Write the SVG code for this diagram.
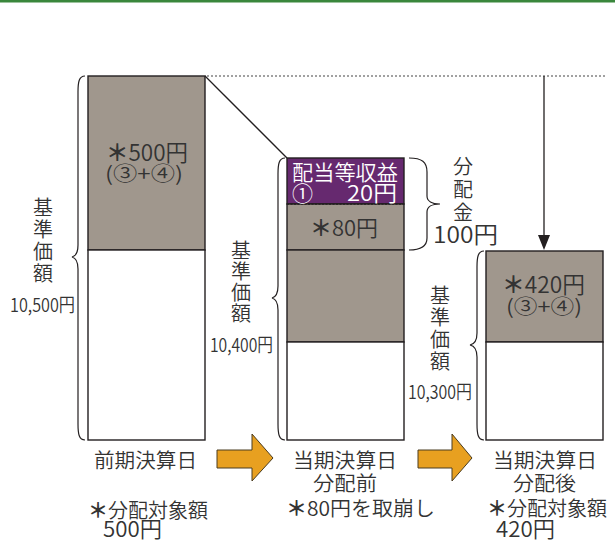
<svg xmlns="http://www.w3.org/2000/svg" width="615" height="542" viewBox="0 0 615 542">
<style>
text{font-family:"Noto Sans CJK JP","Noto Sans",sans-serif;fill:#333;font-weight:350}
.box{stroke:#231f20;stroke-width:1.4}
.g{fill:#a0978d}
.w{fill:#fff}
.p{fill:#66296f}
.ln{stroke:#231f20;stroke-width:1.3;fill:none}
.br{stroke:#231f20;stroke-width:1.2;fill:none}
.v{font-size:20px;text-anchor:middle}
.s{font-size:19px}
.ast{font-weight:700}
.arr{fill:#e8a020;stroke:#4a3c20;stroke-width:1}
</style>
<rect x="0" y="0" width="615" height="2.5" fill="#3a873c"/>

<g id="connectors">
<line class="ln" x1="205" y1="76" x2="287" y2="158"/>
<line x1="207" y1="76" x2="606" y2="76" stroke="#444" stroke-width="1.2" stroke-dasharray="2,2"/>
<line class="ln" x1="544" y1="76" x2="544" y2="238"/>
<polygon points="538,235 550,235 544,250" fill="#231f20"/>
<polygon class="arr" points="217,450 252,450 252,434 273,458 252,481 252,468 217,468"/>
<polygon class="arr" points="418,450 452,450 452,434 472,458 452,481 452,468 418,468"/>
</g>

<g id="box1">
<rect class="box g" x="88" y="76" width="117" height="174"/>
<rect class="box w" x="88" y="250" width="117" height="190"/>
<text x="106" y="161" font-size="23" textLength="82" lengthAdjust="spacingAndGlyphs"><tspan class="ast">＊</tspan>500円</text>
<text x="105" y="181" font-size="20" textLength="78" lengthAdjust="spacingAndGlyphs">(③+④)</text>
<path class="br" d="M85,76 C79,76 78,82 78,92 L78,245 C78,252 76,256 72,257 C76,258 78,262 78,269 L78,424 C78,434 79,440 85,440"/>
<text class="v"><tspan x="43" y="215">基</tspan><tspan x="43" y="237">準</tspan><tspan x="43" y="259">価</tspan><tspan x="43" y="281">額</tspan></text>
<text class="s" x="10" y="312" textLength="65" lengthAdjust="spacingAndGlyphs">10,500円</text>
<text x="94" y="468" font-size="20.5" textLength="103" lengthAdjust="spacingAndGlyphs">前期決算日</text>
<text x="88" y="518" font-size="20.5" textLength="120" lengthAdjust="spacingAndGlyphs"><tspan class="ast">＊</tspan>分配対象額</text>
<text x="103" y="537" font-size="22" textLength="59" lengthAdjust="spacingAndGlyphs">500円</text>
</g>

<g id="box2">
<rect class="box p" x="287" y="158" width="117" height="46"/>
<rect class="box g" x="287" y="204" width="117" height="46"/>
<rect class="box g" x="287" y="250" width="117" height="92"/>
<rect class="box w" x="287" y="342" width="117" height="98"/>
<line x1="287" y1="204" x2="404" y2="204" stroke="#231f20" stroke-width="1.4" stroke-dasharray="2,1.5"/>
<text x="292" y="180" font-size="21" style="fill:#fff" textLength="106" lengthAdjust="spacingAndGlyphs">配当等収益</text>
<text x="292" y="201" font-size="21" style="fill:#fff">①</text>
<text x="347" y="201" font-size="22" style="fill:#fff" textLength="50" lengthAdjust="spacingAndGlyphs">20円</text>
<text x="310" y="236" font-size="22" textLength="68" lengthAdjust="spacingAndGlyphs"><tspan class="ast">＊</tspan>80円</text>
<path class="br" d="M285,158 C279,158 278,164 278,174 L278,286 C278,293 276,297 272,298 C276,299 278,303 278,310 L278,424 C278,434 279,440 285,440"/>
<text class="v"><tspan x="241" y="258">基</tspan><tspan x="241" y="279">準</tspan><tspan x="241" y="300">価</tspan><tspan x="241" y="321">額</tspan></text>
<text class="s" x="210" y="352" textLength="63" lengthAdjust="spacingAndGlyphs">10,400円</text>
<text x="293" y="468" font-size="20.5" textLength="104" lengthAdjust="spacingAndGlyphs">当期決算日</text>
<text x="313" y="491" font-size="20.5" textLength="64" lengthAdjust="spacingAndGlyphs">分配前</text>
<text x="286" y="516" font-size="20.5" textLength="149" lengthAdjust="spacingAndGlyphs"><tspan class="ast">＊</tspan>80円を取崩し</text>
</g>

<g id="dist">
<path class="br" d="M409,158 C422,158 427,162 427,172 L427,196 C427,201 432,204 440,204 C432,204 427,207 427,212 L427,238 C427,246 422,250 409,250"/>
<text class="v"><tspan x="463" y="174">分</tspan><tspan x="463" y="197">配</tspan><tspan x="463" y="220">金</tspan></text>
<text x="433" y="243" font-size="23" textLength="65" lengthAdjust="spacingAndGlyphs">100円</text>
</g>

<g id="box3">
<rect class="box g" x="486" y="251" width="117" height="91"/>
<rect class="box w" x="486" y="342" width="117" height="98"/>
<text x="502" y="293" font-size="23" textLength="83" lengthAdjust="spacingAndGlyphs"><tspan class="ast">＊</tspan>420円</text>
<text x="506" y="314" font-size="20" textLength="76" lengthAdjust="spacingAndGlyphs">(③+④)</text>
<path class="br" d="M484,251 C478,251 477,257 477,267 L477,333 C477,340 475,344 470,345 C475,346 477,350 477,357 L477,424 C477,434 478,440 484,440"/>
<text class="v"><tspan x="440" y="303">基</tspan><tspan x="440" y="325">準</tspan><tspan x="440" y="347">価</tspan><tspan x="440" y="369">額</tspan></text>
<text class="s" x="408" y="399" textLength="64" lengthAdjust="spacingAndGlyphs">10,300円</text>
<text x="493" y="468" font-size="20.5" textLength="104" lengthAdjust="spacingAndGlyphs">当期決算日</text>
<text x="513" y="491" font-size="20.5" textLength="63" lengthAdjust="spacingAndGlyphs">分配後</text>
<text x="487" y="516" font-size="20.5" textLength="120" lengthAdjust="spacingAndGlyphs"><tspan class="ast">＊</tspan>分配対象額</text>
<text x="496" y="537" font-size="22" textLength="59" lengthAdjust="spacingAndGlyphs">420円</text>
</g>
</svg>
